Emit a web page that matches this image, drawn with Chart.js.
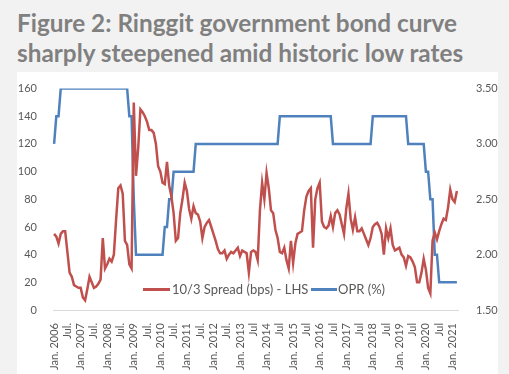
<!DOCTYPE html>
<html>
<head>
<meta charset="utf-8">
<script src="https://cdn.jsdelivr.net/npm/chart.js@4.4.0/dist/chart.umd.min.js"></script>
<style>
  body{margin:0;width:509px;height:374px;background:#f2f2f2;overflow:hidden;position:relative;font-family:Lato,sans-serif}
  .ttl{position:absolute;left:17px;font-weight:bold;font-size:25px;line-height:30px;color:#808080;white-space:nowrap;transform-origin:0 0}
  #box{position:absolute;left:17px;top:72px;width:481px;height:302px;background:#fff}
  .leg{position:absolute;font-size:13px;color:#595959;white-space:nowrap}
  .sw{position:absolute;height:3px}
</style>
</head>
<body>
<div class="ttl" id="t1" style="top:7px">Figure 2: Ringgit government bond curve</div>
<div class="ttl" id="t2" style="top:37px">sharply steepened amid historic low rates</div>
<div id="box"><canvas id="c"></canvas></div>
<div class="sw" style="left:143px;top:288px;width:27px;background:#C0504D"></div>
<div class="leg" style="left:172px;top:281px">10/3 Spread (bps) - LHS</div>
<div class="sw" style="left:311px;top:288px;width:26px;background:#4F81BD"></div>
<div class="leg" style="left:338px;top:281px">OPR (%)</div>
<script>
// 6-monthly tick labels, Jan 2006 .. Jan 2021
const tickLabels = ["Jan. 2006","Jul.","Jan. 2007","Jul.","Jan. 2008","Jul.","Jan. 2009","Jul.",
  "Jan. 2010","Jul.","Jan. 2011","Jul.","Jan. 2012","Jul.","Jan. 2013","Jul","Jan. 2014","Jul",
  "Jan. 2015","Jul","Jan. 2016","Jul","Jan. 2017","Jul","Jan. 2018","Jul","Jan. 2019","Jul",
  "Jan. 2020","Jul","Jan. 2021"]

// 10/3 spread, bps, monthly Jan 2006 - Mar 2021
const spread = [
  55,53,48,55,57,57,42,27,24,18,17,16,      // 2006
  16,9,7,15,24,20,16,17,19,22,52,30,        // 2007
  33,37,35,40,65,88,90,84,50,47,33,30,      // 2008
  150,97,117,145,143,140,136,130,130,128,120,104, // 2009
  100,92,91,107,90,82,70,50,52,70,80,92,    // 2010
  86,73,66,75,70,69,64,52,60,63,65,60,      // 2011
  55,50,44,41,41,43,37,40,42,41,43,45,      // 2012
  39,43,42,41,27,42,43,42,36,72,92,80,      // 2013
  99,88,72,70,58,52,42,41,45,36,30,50,      // 2014
  34,48,55,56,57,72,82,86,88,45,80,88,      // 2015
  92,64,60,59,61,68,60,70,72,69,62,55,      // 2016
  73,84,66,58,67,57,57,59,55,51,47,52,      // 2017
  60,62,63,60,55,40,59,52,59,47,43,44,      // 2018
  45,40,38,32,39,38,35,31,20,20,27,37,      // 2019
  29,16,12,50,56,51,57,62,66,65,74,87,      // 2020
  80,78,86                                  // 2021
]

// OPR, %, monthly
const opr = [
  3,3.25,3.25,3.5,3.5,3.5,3.5,3.5,3.5,3.5,3.5,3.5,
  3.5,3.5,3.5,3.5,3.5,3.5,3.5,3.5,3.5,3.5,3.5,3.5,
  3.5,3.5,3.5,3.5,3.5,3.5,3.5,3.5,3.5,3.5,3.25,3.25,
  2.5,2,2,2,2,2,2,2,2,2,2,2,
  2,2,2.25,2.25,2.5,2.5,2.75,2.75,2.75,2.75,2.75,2.75,
  2.75,2.75,2.75,2.75,3,3,3,3,3,3,3,3,
  3,3,3,3,3,3,3,3,3,3,3,3,
  3,3,3,3,3,3,3,3,3,3,3,3,
  3,3,3,3,3,3,3.25,3.25,3.25,3.25,3.25,3.25,
  3.25,3.25,3.25,3.25,3.25,3.25,3.25,3.25,3.25,3.25,3.25,3.25,
  3.25,3.25,3.25,3.25,3.25,3.25,3,3,3,3,3,3,
  3,3,3,3,3,3,3,3,3,3,3,3,
  3.25,3.25,3.25,3.25,3.25,3.25,3.25,3.25,3.25,3.25,3.25,3.25,
  3.25,3.25,3.25,3.25,3,3,3,3,3,3,3,3,
  2.75,2.75,2.5,2.5,2,2,1.75,1.75,1.75,1.75,1.75,1.75,
  1.75,1.75,1.75
]

// one category per month, label only every 6th
const months = spread.map((v,i) => i % 6 === 0 ? tickLabels[i/6] : "")

// squeeze title to the width of the original
const t1 = document.getElementById("t1")
const k = 440 / t1.getBoundingClientRect().width
t1.style.transform = `scaleX(${k})`
document.getElementById("t2").style.transform = `scaleX(${k})`

const tickFont = {family:"Lato", size:11}

new Chart(document.getElementById("c"), {
  type: 'line',
  data: {
    labels: months,
    datasets: [
      {label:'10/3 Spread (bps) - LHS', data:spread, borderColor:'#C0504D', borderWidth:2.5,
       pointRadius:0, yAxisID:'y'},
      {label:'OPR (%)', data:opr, borderColor:'#4F81BD', borderWidth:2.5,
       pointRadius:0, yAxisID:'y1'}
    ]
  },
  options: {
    responsive: true,
    maintainAspectRatio: false,
    animation: false,
    layout: {padding:{top:15}},
    plugins: {legend:{display:false}, tooltip:{enabled:false}},
    scales: {
      x: {
        offset: true,
        grid: {display:false},
        border: {color:'#d9d9d9'},
        ticks: {autoSkip:false, maxRotation:90, minRotation:90, padding:5, color:'#595959', font:tickFont},
        afterFit(s){ s.height = 64 }
      },
      y: {
        position: 'left', min:0, max:160,
        grid: {display:false}, border: {display:false},
        ticks: {stepSize:20, padding:8, color:'#595959', font:tickFont},
        afterFit(s){ s.width = 36 }
      },
      y1: {
        position: 'right', min:1.5, max:3.5,
        grid: {display:false}, border: {display:false},
        ticks: {stepSize:0.5, padding:10, color:'#595959', font:tickFont, callback: v => v.toFixed(2)},
        afterFit(s){ s.width = 40 }
      }
    }
  }
})
</script>
</body>
</html>
